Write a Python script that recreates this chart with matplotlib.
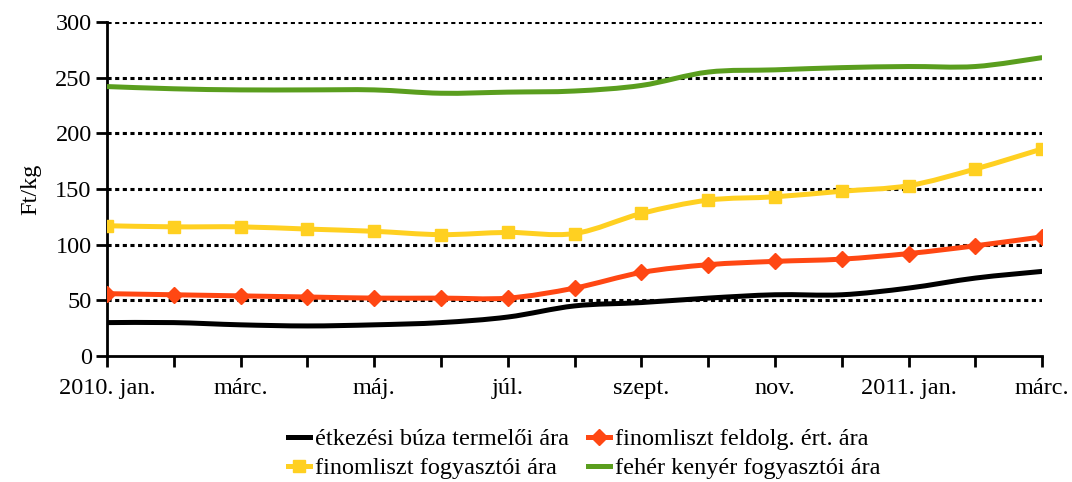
import numpy as np
import matplotlib.pyplot as plt
from matplotlib.path import Path
from matplotlib.patches import PathPatch
from matplotlib.lines import Line2D

months = ['2010. jan.', 'febr.', 'márc.', 'ápr.', 'máj.', 'jún.', 'júl.', 'aug.',
          'szept.', 'okt.', 'nov.', 'dec.', '2011. jan.', 'febr.', 'márc.']
buza = [30, 30, 28, 27, 28, 30, 35, 45, 48, 52, 55, 55, 61, 70, 76]
liszt_feldolg = [56, 55, 54, 53, 52, 52, 52, 61, 75, 82, 85, 87, 92, 99, 107]
liszt_fogy = [117, 116, 116, 114, 112, 109, 111, 110, 128, 140, 143, 148, 153, 168, 186]
kenyer = [242, 240, 239, 239, 239, 236, 237, 238, 243, 255, 257, 259, 260, 260, 268]

labels = ['étkezési búza termelői ára', 'finomliszt feldolg. ért. ára',
          'finomliszt fogyasztói ára', 'fehér kenyér fogyasztói ára']
colors = ['#000000', '#ff4713', '#ffd021', '#5a9e1e']
markers = [None, 'D', 's', None]

plt.rcParams['font.family'] = ['Liberation Serif', 'DejaVu Serif']
FS = 17.5


def smooth_path(x, y, tension=0.5):
    """Excel-like smoothed line: cubic Bezier segments through the points."""
    x = np.asarray(x, float)
    y = np.asarray(y, float)
    verts = [(x[0], y[0])]
    codes = [Path.MOVETO]
    n = len(x)
    for i in range(n - 1):
        p0 = i - 1 if i > 0 else i
        p3 = i + 2 if i + 2 < n else i + 1
        c1 = (x[i] + (x[i + 1] - x[p0]) * tension / 3, y[i] + (y[i + 1] - y[p0]) * tension / 3)
        c2 = (x[i + 1] - (x[p3] - x[i]) * tension / 3, y[i + 1] - (y[p3] - y[i]) * tension / 3)
        verts += [c1, c2, (x[i + 1], y[i + 1])]
        codes += [Path.CURVE4] * 3
    return Path(verts, codes)


fig = plt.figure(figsize=(10.72, 4.82), dpi=100)
ax = fig.add_axes([0.0998, 0.2614, 0.8724, 0.693])

x = np.arange(len(months))
series = [buza, liszt_feldolg, liszt_fogy, kenyer]

for vals, col, mk in zip(series, colors, markers):
    ax.add_patch(PathPatch(smooth_path(x, vals), facecolor='none', edgecolor=col,
                           lw=3.6, capstyle='butt', zorder=3))
    if mk:
        ax.plot(x, vals, linestyle='none', marker=mk, color=col,
                markersize=9 if mk == 's' else 8, zorder=4)

ax.set_xlim(0, len(months) - 1)
ax.set_ylim(0, 300)
ax.set_yticks(range(0, 301, 50))
ax.set_xticks(x)
ax.set_xticklabels([m if i % 2 == 0 else '' for i, m in enumerate(months)])

for yv in range(50, 301, 50):
    ax.axhline(yv, color='black', lw=2.2, linestyle=(0, (1.35, 1.15)), zorder=1)

for s in ['top', 'right']:
    ax.spines[s].set_visible(False)
ax.spines['left'].set_linewidth(2)
ax.spines['bottom'].set_linewidth(2)
ax.tick_params(axis='both', direction='out', length=8, width=2, labelsize=FS,
               colors='black')
ax.tick_params(axis='x', pad=8)
ax.tick_params(axis='y', pad=3)
ax.set_ylabel('Ft/kg', fontsize=FS, labelpad=10)

# legend fills column-wise, so order the handles to get the reference rows
order = [0, 2, 1, 3]
handles = []
for i in order:
    handles.append(Line2D([], [], color=colors[i], lw=3.6, marker=markers[i],
                          markersize=8, label=labels[i]))
fig.legend(handles=handles, loc='lower center', bbox_to_anchor=(0.545, -0.04), ncol=2,
           frameon=False, fontsize=FS, handlelength=0.9, handletextpad=0.2,
           columnspacing=0.8, labelspacing=0.3)

fig.savefig('out.png', dpi=100)
